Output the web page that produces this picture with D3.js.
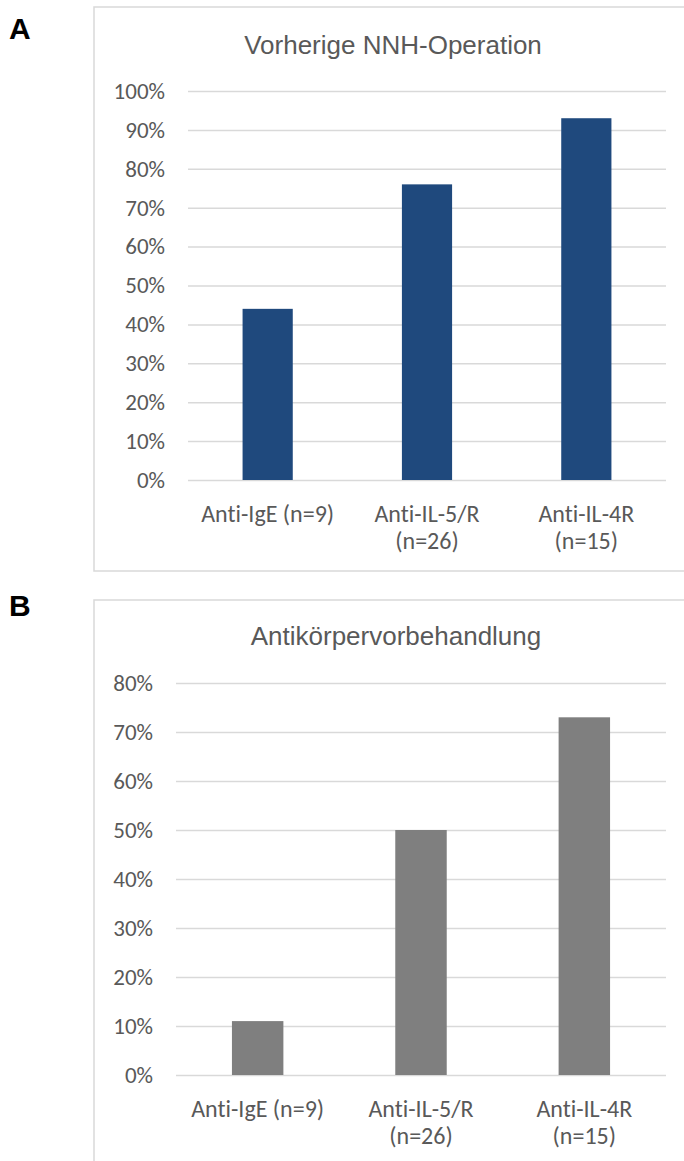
<!DOCTYPE html>
<html>
<head>
<meta charset="utf-8">
<script src="https://cdn.jsdelivr.net/npm/d3@7"></script>
<style>
  html, body { margin: 0; padding: 0; background: #ffffff; }
  svg { display: block; }
  text { font-variant-ligatures: none; font-feature-settings: "liga" 0; }
</style>
</head>
<body>
<svg id="chart" width="684" height="1161"></svg>
<script>
// Categories shared by both panels
const categories = ["Anti-IgE (n=9)", "Anti-IL-5/R (n=26)", "Anti-IL-4R (n=15)"];

// Panel A: share of patients with a previous sinus surgery
const titleA = "Vorherige NNH-Operation";
const valuesA = [0.44, 0.76, 0.93];
const ticksA = [0, 0.1, 0.2, 0.3, 0.4, 0.5, 0.6, 0.7, 0.8, 0.9, 1.0];

// Panel B: share of patients with prior antibody treatment
const titleB = "Antikörpervorbehandlung";
const valuesB = [0.11, 0.50, 0.73];
const ticksB = [0, 0.1, 0.2, 0.3, 0.4, 0.5, 0.6, 0.7, 0.8];

const svg = d3.select("#chart");
const pct = d3.format(".0%");
const textColor = "#595959";
const gridColor = "#d9d9d9";
const labelFont = "Carlito, Calibri, Lato, sans-serif";
const titleFont = "'Liberation Sans', Arial, sans-serif";

// Break a category label onto several lines when it is wider than its band
function wrap(sel, maxWidth, lineHeight) {
  sel.each(function () {
    const text = d3.select(this);
    const words = text.text().split(/\s+/);
    const x = text.attr("x");
    const y = text.attr("y");
    text.text(null);
    let line = [];
    let lineNo = 0;
    let tspan = text.append("tspan").attr("x", x).attr("y", y);
    for (const w of words) {
      line.push(w);
      tspan.text(line.join(" "));
      if (tspan.node().getComputedTextLength() > maxWidth && line.length > 1) {
        line.pop();
        tspan.text(line.join(" "));
        line = [w];
        lineNo += 1;
        tspan = text.append("tspan").attr("x", x).attr("y", +y + lineNo * lineHeight).text(w);
      }
    }
  });
}

function panel(cfg) {
  const g = svg.append("g");

  // Chart frame (open on the right, runs past the page edge)
  g.append("rect")
    .attr("x", cfg.frame.x).attr("y", cfg.frame.y)
    .attr("width", cfg.frame.w).attr("height", cfg.frame.h)
    .attr("fill", "none").attr("stroke", gridColor).attr("stroke-width", 1.5);

  // Panel letter
  g.append("text")
    .attr("x", 9).attr("y", cfg.letterY)
    .attr("font-family", titleFont)
    .attr("font-weight", "bold").attr("font-size", 30)
    .attr("fill", "#000").text(cfg.letter);

  // Title
  g.append("text")
    .attr("x", cfg.titleX).attr("y", cfg.titleY)
    .attr("text-anchor", "middle")
    .attr("font-family", titleFont)
    .attr("font-size", 26).attr("fill", textColor)
    .text(cfg.title);

  const x = d3.scaleBand()
    .domain(categories)
    .range([cfg.x0, cfg.x1])
    .paddingInner(0.685)
    .paddingOuter(0.3425);

  const y = d3.scaleLinear()
    .domain([0, cfg.yMax])
    .range([cfg.y0, cfg.y1]);

  // Y axis with gridlines
  const yAxis = d3.axisLeft(y)
    .tickValues(cfg.ticks)
    .tickFormat(pct)
    .tickSize(-(cfg.x1 - cfg.x0))
    .tickPadding(23);

  const ya = g.append("g")
    .attr("transform", `translate(${cfg.x0},0)`)
    .call(yAxis);
  ya.select(".domain").remove();
  ya.selectAll(".tick line").attr("stroke", gridColor).attr("stroke-width", 1.5);
  ya.selectAll(".tick text")
    .attr("font-family", labelFont)
    .attr("font-size", 23).attr("fill", textColor);

  // Bars
  g.append("g").selectAll("rect")
    .data(categories.map((c, i) => ({ c, v: cfg.values[i] })))
    .join("rect")
    .attr("x", d => x(d.c))
    .attr("width", x.bandwidth())
    .attr("y", d => y(d.v))
    .attr("height", d => y(0) - y(d.v))
    .attr("fill", cfg.color);

  // Category labels
  const labels = g.append("g").selectAll("text")
    .data(categories)
    .join("text")
    .attr("x", d => x(d) + x.bandwidth() / 2)
    .attr("y", cfg.labelY)
    .attr("text-anchor", "middle")
    .attr("font-family", labelFont)
    .attr("font-size", 24).attr("fill", textColor)
    .text(d => d);
  wrap(labels, x.step() * 0.95, 27);
}

panel({
  letter: "A", letterY: 39,
  frame: { x: 94, y: 7, w: 640, h: 564 },
  title: titleA, titleX: 393, titleY: 54,
  values: valuesA, ticks: ticksA, yMax: 1.0,
  x0: 188, x1: 666, y0: 480, y1: 91,
  labelY: 522, color: "#1f497d"
});

panel({
  letter: "B", letterY: 616,
  frame: { x: 94, y: 600, w: 640, h: 600 },
  title: titleB, titleX: 396, titleY: 645,
  values: valuesB, ticks: ticksB, yMax: 0.8,
  x0: 176, x1: 666, y0: 1075, y1: 683,
  labelY: 1117, color: "#7f7f7f"
});
</script>
</body>
</html>
